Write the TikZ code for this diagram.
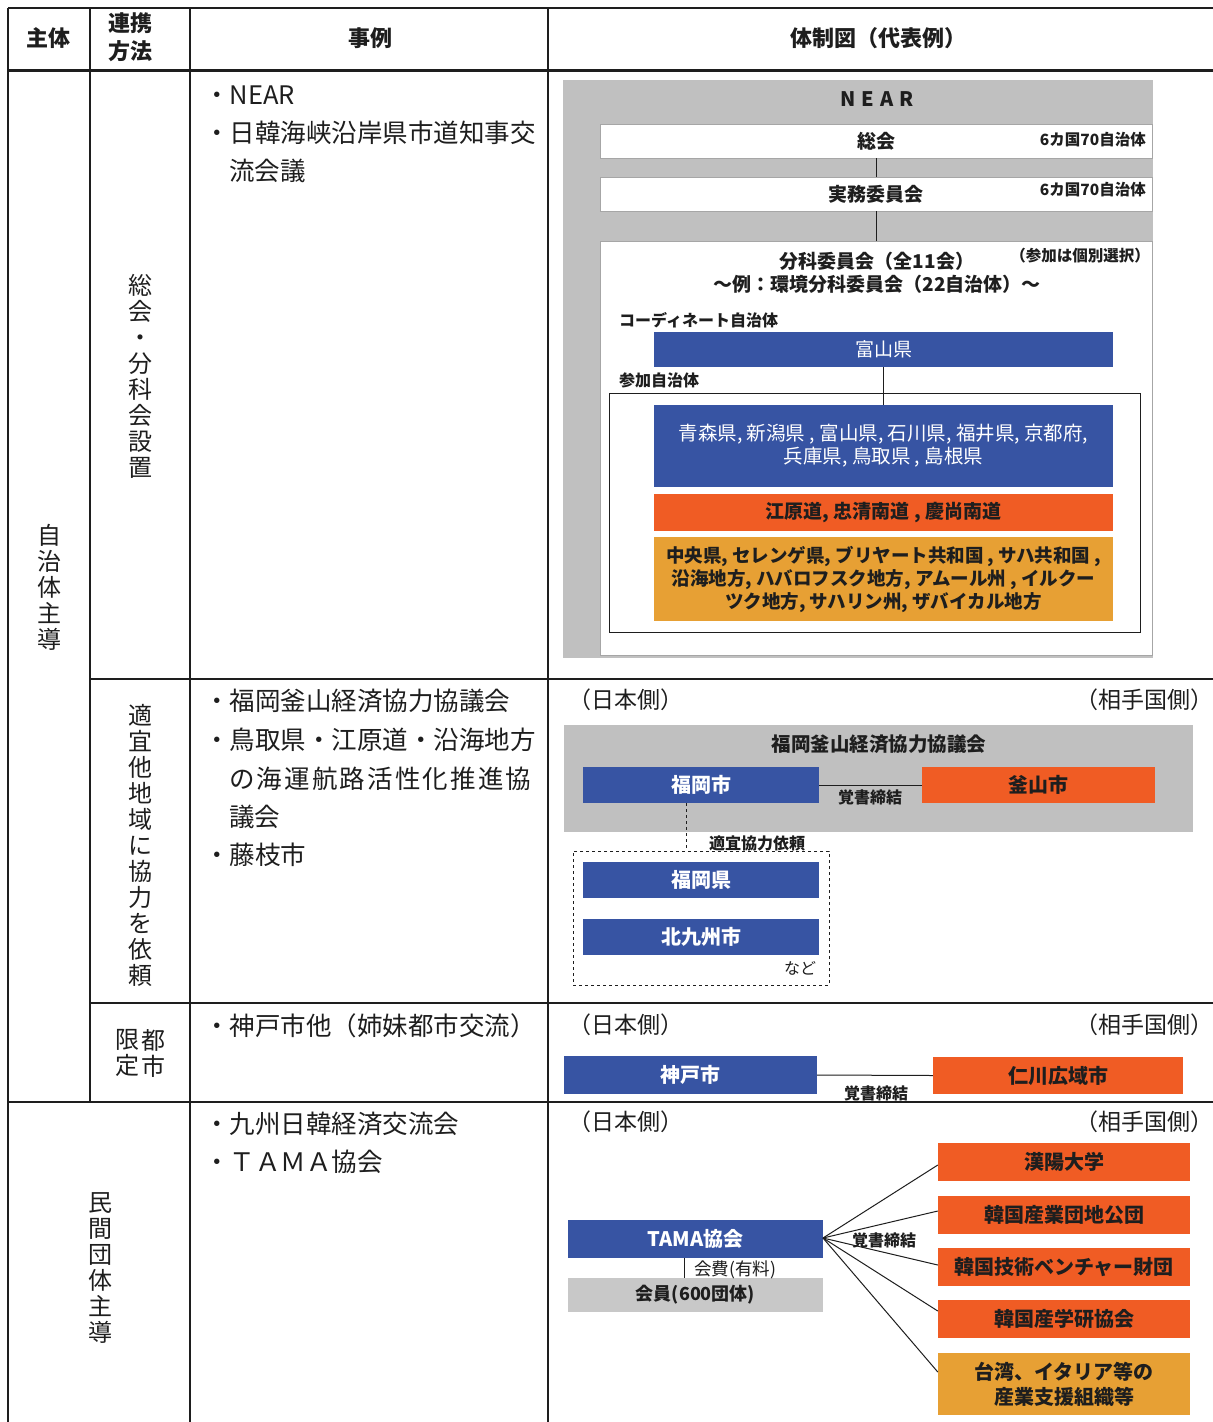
\documentclass[tikz,border=0pt]{standalone}
\usepackage{fontspec}
\newfontfamily\jp{Noto Sans CJK JP}
\newcommand\jpsz[2]{\fontsize{#1}{#2}\selectfont}
\definecolor{nblue}{RGB}{55,84,163}
\definecolor{nred}{RGB}{240,92,36}
\definecolor{namber}{RGB}{231,160,52}
\definecolor{pgray}{RGB}{192,192,192}
\definecolor{mgray}{RGB}{200,200,200}
\definecolor{ink}{RGB}{30,30,30}
\begin{document}
\begin{tikzpicture}[x=1pt,y=-1pt,
  rule/.style={line width=1.5pt, ink},
  hdr/.style={font=\jp\bfseries\jpsz{22}{28}, text=ink, inner sep=0pt, align=center},
  case/.style={anchor=west, inner sep=0pt, font=\jp\jpsz{25.5}{27}, text=ink},
  vert/.style={align=center, inner sep=0pt, font=\jp\jpsz{24}{26}, text=ink},
  side/.style={font=\jp\jpsz{23}{24}, inner sep=0pt, text=ink},
  wh/.style 2 args={minimum width=#1pt, minimum height=#2pt},
  bluebox/.style={fill=nblue, text=white, font=\jp\bfseries\jpsz{20}{23}, inner sep=0pt, align=center},
  redbox/.style={fill=nred, text=ink, font=\jp\bfseries\jpsz{20}{23}, inner sep=0pt, align=center},
  amberbox/.style={fill=namber, text=ink, font=\jp\bfseries\jpsz{18.5}{23}, inner sep=0pt, align=center},
  whitebox/.style={fill=white, draw=black!35, line width=0.6pt, inner sep=0pt},
  lbl/.style={font=\jp\bfseries\jpsz{19}{22}, text=ink, inner sep=0pt, align=center},
  small/.style={font=\jp\bfseries\jpsz{16}{18}, text=ink, inner sep=0pt},
  conn/.style={line width=1pt, ink}
]
\useasboundingbox (0,0) rectangle (1213,1422);
\fill[white] (0,0) rectangle (1213,1422);

% ---------- table rules ----------
\draw[rule, line width=2pt] (8,8) -- (1213,8);
\draw[rule, line width=3pt] (8,70) -- (1213,70);
\draw[rule] (8,8) -- (8,1422);
\draw[rule] (90,8) -- (90,1102);
\draw[rule] (190,8) -- (190,1422);
\draw[rule] (548,8) -- (548,1422);
\draw[rule] (90,679) -- (1213,679);
\draw[rule] (90,1003) -- (1213,1003);
\draw[rule] (8,1102) -- (1213,1102);

% ---------- header ----------
\node[hdr] (h1) at (49,38) {主体};
\node[hdr] (h2) at (130,37) {連携\\方法};
\node[hdr] (h3) at (370,38) {事例};
\node[hdr] (h4) at (878,38) {体制図（代表例）};

% ---------- left columns ----------
\node[vert] (v1) at (49,587) {自\\治\\体\\主\\導};
\node[vert] (v2) at (140,376) {総\\会\\・\\分\\科\\会\\設\\置};
\node[vert] (v3) at (140,845) {適\\宜\\他\\地\\域\\に\\協\\力\\を\\依\\頼};
\node[vert] (v4a) at (127,1053) {限\\定};
\node[vert] (v4b) at (153,1053) {都\\市};
\node[vert] (v5) at (100,1268) {民\\間\\団\\体\\主\\導};

% ---------- cases ----------
\node[case] (c1) at (204,95) {・NEAR};
\node[case] (c2) at (204,133) {・日韓海峡沿岸県市道知事交};
\node[case] (c3) at (229,171) {流会議};
\node[case] (c4) at (204,701) {・福岡釜山経済協力協議会};
\node[case] (c5) at (204,740) {・鳥取県・江原道・沿海地方};
\node[case, font=\jp\jpsz{25.5}{27}\addfontfeatures{LetterSpace=8.5}] (c6) at (229,779) {の海運航路活性化推進協};
\node[case] (c7) at (229,817) {議会};
\node[case] (c8) at (204,855) {・藤枝市};
\node[case] (c9) at (204,1026) {・神戸市他（姉妹都市交流）};
\node[case] (c10) at (204,1124) {・九州日韓経済交流会};
\node[case] (c11) at (204,1162) {・ＴＡＭＡ協会};

% ---------- section 1 : NEAR ----------
\fill[pgray] (563,80) rectangle (1153,658);
\node[lbl, font=\jp\bfseries\jpsz{20}{22}\addfontfeatures{LetterSpace=30}] (near) at (877,99) {NEAR};
\node[whitebox, wh={552}{34}] (soukai) at (876,141) {};
\node[lbl] at (soukai) {総会};
\node[small, font=\jp\bfseries\jpsz{15.5}{18}, anchor=east] (n70a) at (1146,140) {6カ国70自治体};
\node[whitebox, wh={552}{34}] (jitsumu) at (876,194) {};
\node[lbl] at (jitsumu) {実務委員会};
\node[small, font=\jp\bfseries\jpsz{15.5}{18}, anchor=east] (n70b) at (1146,190) {6カ国70自治体};
\node[whitebox, wh={552}{414}] (bunka) at (876,448) {};
\draw[conn] (soukai.south) -- (jitsumu.north);
\draw[conn] (jitsumu.south) -- (bunka.north);
\node[lbl] (bt1) at (877,261) {分科委員会（全11会）};
\node[lbl] (bt2) at (877,284) {～例：環境分科委員会（22自治体）～};
\node[small, font=\jp\bfseries\jpsz{15.5}{18}, anchor=east] (sel) at (1150,256) {（参加は個別選択）};
\node[small, anchor=west] (coord) at (619,320) {コーディネート自治体};
\node[bluebox, wh={459}{35}, font=\jp\jpsz{19}{22}] (toyama) at (883.5,349.5) {富山県};
\node[small, anchor=west] (sanka) at (619,380) {参加自治体};
\node[draw=ink, line width=1pt, inner sep=0pt, wh={531}{239}] (frame) at (874.5,512.5) {};
\node[bluebox, wh={459}{82}, font=\jp\jpsz{19.5}{23}] (jpside) at (883.5,446) {青森県, 新潟県 , 富山県, 石川県, 福井県, 京都府,\\兵庫県, 鳥取県 , 島根県};
\node[redbox, wh={459}{37}, font=\jp\bfseries\jpsz{19}{23}] (krside) at (883.5,512.5) {江原道, 忠清南道 , 慶尚南道};
\node[amberbox, wh={459}{84}] (ruside) at (883.5,579) {中央県, セレンゲ県, ブリヤート共和国 , サハ共和国 ,\\沿海地方, ハバロフスク地方, アムール州 , イルクー\\ツク地方, サハリン州, ザバイカル地方};
\draw[conn] (toyama.south) -- (jpside.north);

% ---------- section 2 : Fukuoka ----------
\node[side, anchor=west] (jp2) at (568,700) {（日本側）};
\node[side, anchor=east] (kr2) at (1214,700) {（相手国側）};
\fill[pgray] (564,725) rectangle (1193,832);
\node[lbl, font=\jp\bfseries\jpsz{19.5}{22}] (fbtitle) at (879,744) {福岡釜山経済協力協議会};
\node[bluebox, wh={236}{36}] (fukuokashi) at (701,785) {福岡市};
\node[redbox, wh={233}{36}] (busan) at (1038.5,785) {釜山市};
\draw[conn] (fukuokashi.east) -- (busan.west);
\node[small] (mou2) at (870,797) {覚書締結};
\node[draw=ink, dashed, line width=1pt, inner sep=0pt, wh={256}{134}] (dframe) at (701,918) {};
\draw[conn, dashed] ([xshift=-15pt]fukuokashi.south) -- ([xshift=-15pt]fukuokashi.south |- dframe.north);
\node[small, anchor=west] (req) at (709,843) {適宜協力依頼};
\node[bluebox, wh={236}{36}] (fukuokaken) at (701,880) {福岡県};
\node[bluebox, wh={236}{36}] (kitaq) at (701,937) {北九州市};
\node[small, font=\jp\jpsz{16}{18}] (nado) at (800,968) {など};

% ---------- section 3 : Kobe ----------
\node[side, anchor=west] (jp3) at (568,1025) {（日本側）};
\node[side, anchor=east] (kr3) at (1214,1025) {（相手国側）};
\node[bluebox, wh={253}{38}] (kobe) at (690.5,1075) {神戸市};
\node[redbox, wh={250}{37}] (incheon) at (1058,1075.5) {仁川広域市};
\draw[conn] (kobe.east) -- (incheon.west);
\node[small] (mou3) at (876,1093) {覚書締結};

% ---------- section 4 : TAMA ----------
\node[side, anchor=west] (jp4) at (568,1122) {（日本側）};
\node[side, anchor=east] (kr4) at (1214,1122) {（相手国側）};
\node[bluebox, wh={255}{38}] (tama) at (695.5,1239) {TAMA協会};
\node[fill=mgray, inner sep=0pt, wh={255}{34}, font=\jp\bfseries\jpsz{18}{20}, text=ink] (kaiin) at (695.5,1295) {会員(600団体)};
\draw[conn] ([xshift=-11.5pt]tama.south) -- ([xshift=-11.5pt]kaiin.north);
\node[anchor=west, inner sep=0pt, font=\jp\jpsz{17.5}{19}, text=ink] (fee) at (694,1270) {会費(有料)};
\node[redbox, wh={252}{38}] (b1) at (1064,1162) {漢陽大学};
\node[redbox, wh={252}{38}] (b2) at (1064,1215) {韓国産業団地公団};
\node[redbox, wh={252}{38}] (b3) at (1064,1267) {韓国技術ベンチャー財団};
\node[redbox, wh={252}{38}] (b4) at (1064,1319) {韓国産学研協会};
\node[amberbox, wh={252}{62}, font=\jp\bfseries\jpsz{20}{25}] (b5) at (1064,1384) {台湾、イタリア等の\\産業支援組織等};
\coordinate (tamaout) at (823,1238);
\draw[conn] (tamaout) -- ([yshift=-3pt]b1.west);
\draw[conn] (tamaout) -- ([yshift=4pt]b2.west);
\draw[conn] (tamaout) -- ([yshift=2pt]b3.west);
\draw[conn] (tamaout) -- ([yshift=8pt]b4.west);
\draw[conn] (tamaout) -- ([yshift=12pt]b5.west);
\node[small] (mou4) at (884,1240) {覚書締結};
\end{tikzpicture}
\end{document}
